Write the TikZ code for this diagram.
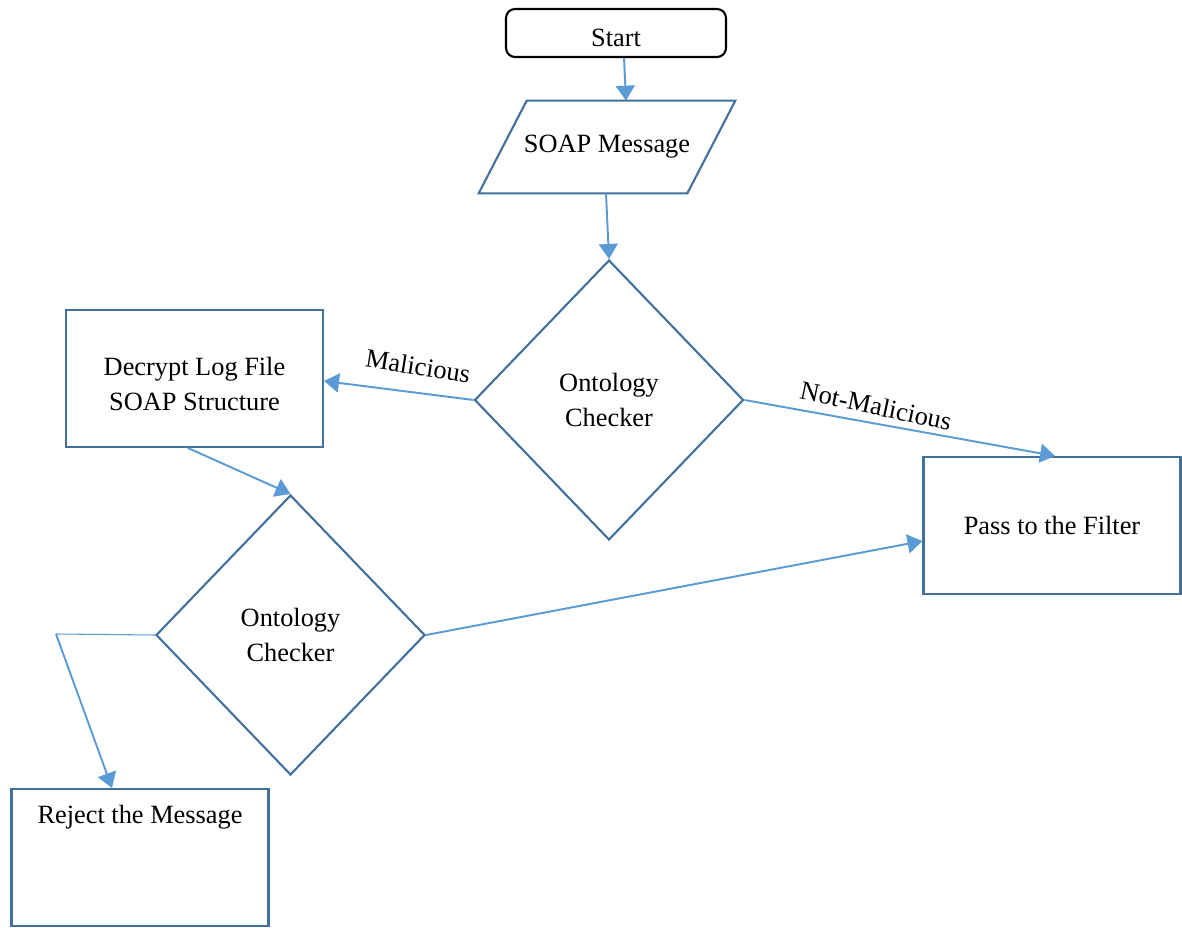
\documentclass[tikz,border=0pt]{standalone}
\usepackage{fontspec}
\setmainfont{Liberation Serif}
\usetikzlibrary{shapes.geometric, arrows.meta, calc}
\definecolor{Box-1}{RGB}{65,113,156}
\definecolor{Flow-1}{RGB}{91,155,213}

\begin{document}
\begin{tikzpicture}[x=0.02cm, y=-0.02cm, font=\fontsize{15}{19.5}\selectfont]
      \tikzset{ term/.style ={draw=black, line width=1.2pt, rounded corners=0.18cm, minimum width=4.40cm, minimum height=0.96cm, inner sep=0pt, text=black} }
      \tikzset{ io/.style   ={rectangle, minimum width=5.12cm, minimum height=1.84cm, inner sep=0pt                                                 } }
      \tikzset{ check/.style={draw=Box-1, line width=1.2pt, diamond, align=center, minimum width=5.38cm, minimum height=5.60cm, inner sep=0pt           } }
      \tikzset{ proc/.style ={draw=Box-1, line width=1.2pt, rectangle, align=center, minimum width=5.14cm, minimum height=2.74cm, inner sep=0pt         } }
      \tikzset{ flow/.style ={draw=Flow-1, line width=1.1pt, -{Triangle[length=0.30cm, width=0.38cm]}                                                  } }
      \tikzset{ lbl/.style  ={text=black, inner sep=0pt                                                                                                   } }

      \path[use as bounding box] (0, 0) rectangle (1182, 928);

      \node[term, label={[lbl, yshift=-0.1cm]center:Start}] (start) at ( 616,  33.0) {};
      \node[io   ] (soap)  at ( 607, 147.0) {SOAP Message};
      \node[check] (chk1)  at ( 609, 400.0) {Ontology\\Checker};
      \node[proc, label={[lbl, align=center, yshift=-0.11cm]center:Decrypt Log File\\SOAP Structure}] (dec) at ( 194.5, 378.5) {};
      \node[proc ] (pass)  at (1052, 525.5) {Pass to the Filter};
      \node[check] (chk2)  at ( 290.5, 635.0) {Ontology\\Checker};
      \node[proc, label={[lbl, yshift=0.81cm]center:Reject the Message}] (rej) at (140, 857.5) {};

      % input box drawn as a slanted outline round the soap node
      \draw[draw=Box-1, line width=1.2pt] ($(soap.north west)+(48,0)$) -- (soap.north east) -- ($(soap.south east)+(-48,0)$) -- (soap.south west) -- cycle;

      \coordinate (bend) at (56, 634);

      \draw[flow] ($(start.south)+(8,0)$)  -- ($(soap.north)+(19,0)$);
      \draw[flow] ($(soap.south)+(-1,0)$)  -- (chk1.north);
      \draw[flow] (chk1.west)              -- ($(dec.east)+(0,2.5)$);
      \draw[flow] (chk1.east)              -- ($(pass.north)+(3,0)$);
      \draw[flow] ($(dec.south)+(-6.5,0)$) -- (chk2.north);
      \draw[flow] (chk2.east)              -- ($(pass.west)+(0,15.5)$);
      \draw[draw=Flow-1, line width=0.6pt] (chk2.west) -- (bend);
      \draw[flow] (bend)                   -- ($(rej.north)+(-28,0)$);

      \node[lbl, rotate=-9 ] (mal)    at (418, 366) {Malicious};
      \node[lbl, rotate=-12] (notmal) at (876, 406) {Not-Malicious};
    \end{tikzpicture}
\end{document}
